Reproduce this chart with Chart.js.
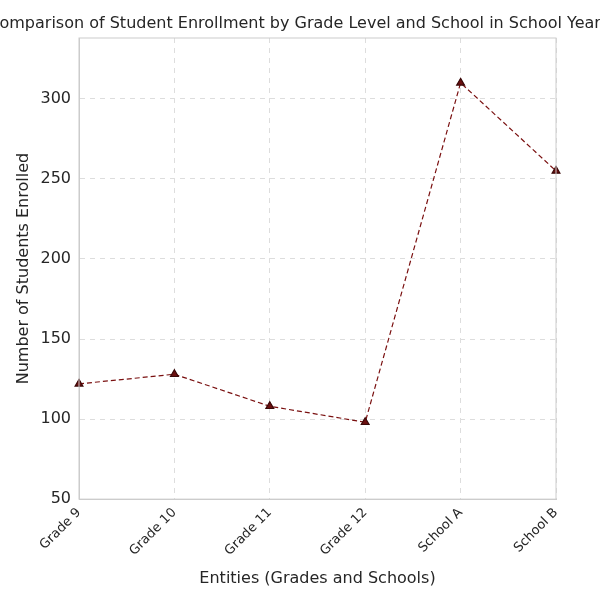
<!DOCTYPE html>
<html>
<head>
<script src="https://cdn.jsdelivr.net/npm/chart.js@4"></script>
<style>body{margin:0;background:#fff}#wrap{width:600px;height:600px}</style>
</head>
<body>
<div id="wrap"><canvas id="chart"></canvas></div>
<script>
const categories = ['Grade 9', 'Grade 10', 'Grade 11', 'Grade 12', 'School A', 'School B'];
const enrolled = [122, 128, 108, 98, 310, 255];
const yTicks = [50, 100, 150, 200, 250, 300];
const titleText = 'Comparison of Student Enrollment by Grade Level and School in School Year 2023';

Chart.defaults.font.family = 'DejaVu Sans';
Chart.defaults.color = '#262626';

new Chart(document.getElementById('chart'), {
  type: 'line',
  data: {
    labels: categories,
    datasets: [{
      data: enrolled,
      borderColor: '#7a1010',
      backgroundColor: '#6b0f0f',
      pointBorderColor: '#3a0808',
      borderWidth: 1.2,
      borderDash: [5, 3],
      pointStyle: 'triangle',
      pointRadius: 4.5,
      tension: 0
    }]
  },
  options: {
    responsive: true,
    maintainAspectRatio: false,
    animation: false,
    layout: { padding: { left: 10, right: 44, top: 38, bottom: 8 } },
    plugins: { legend: { display: false }, title: { display: false } },
    scales: {
      x: {
        offset: false,
        grid: { color: '#dddddd', drawTicks: false },
        border: { color: '#cccccc', dash: [5, 5] },
        ticks: { maxRotation: 45, minRotation: 45, padding: 6, font: { size: 13 } },
        title: { display: true, text: 'Entities (Grades and Schools)', font: { size: 16 } }
      },
      y: {
        min: 50,
        max: 338,
        afterBuildTicks: axis => { axis.ticks = yTicks.map(v => ({ value: v })); },
        afterFit: axis => { axis.width = 69; },
        grid: { color: '#dddddd', drawTicks: false },
        border: { color: '#cccccc', dash: [5, 5] },
        ticks: { padding: 8, font: { size: 16 } },
        title: { display: true, text: 'Number of Students Enrolled', font: { size: 16 } }
      }
    }
  },
  plugins: [{
    id: 'frame',
    afterDraw(chart) {
      const { ctx, chartArea: a } = chart;
      ctx.save();
      ctx.strokeStyle = '#cccccc';
      ctx.lineWidth = 1;
      ctx.setLineDash([]);
      ctx.strokeRect(a.left, a.top, a.right - a.left, a.bottom - a.top);
      ctx.font = '16px "DejaVu Sans"';
      ctx.fillStyle = '#262626';
      ctx.textAlign = 'center';
      ctx.textBaseline = 'middle';
      ctx.fillText(titleText, (a.left + a.right) / 2, 24);
      ctx.restore();
    }
  }]
});
</script>
</body>
</html>
